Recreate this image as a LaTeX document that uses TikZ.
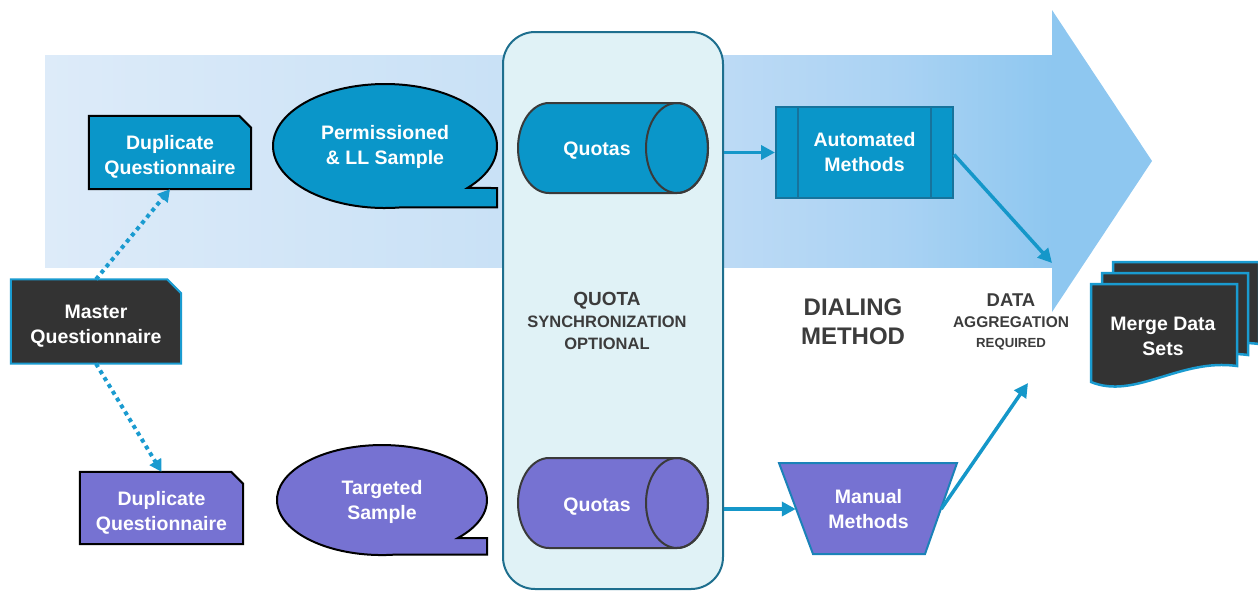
\documentclass[tikz,border=0pt]{standalone}
\usepackage{fontspec}
\setmainfont{Liberation Sans}
\usetikzlibrary{arrows.meta}

\definecolor{qblue}{HTML}{0A96C9}
\definecolor{qpurple}{HTML}{7672D2}
\definecolor{darkfill}{HTML}{333333}
\definecolor{dotblue}{HTML}{1A9BD0}
\definecolor{flowblue}{HTML}{1597C9}
\definecolor{autoedge}{HTML}{17739C}
\definecolor{manedge}{HTML}{1B82B8}
\definecolor{cylgrey}{HTML}{3A3A3A}
\definecolor{syncfill}{HTML}{E0F2F6}
\definecolor{syncedge}{HTML}{1E6F8E}
\definecolor{capgrey}{HTML}{3C3C3C}
\definecolor{bandA}{HTML}{DDEBF9}
\definecolor{bandB}{HTML}{C9E1F6}
\definecolor{bandC}{HTML}{BCDAF5}
\definecolor{bandD}{HTML}{A9D2F3}
\definecolor{bandE}{HTML}{8EC7F0}

% light-to-saturated fill of the process band
\pgfdeclarehorizontalshading{bandshade}{100bp}{color(0bp)=(bandA); color(25bp)=(bandA);
  color(47.5bp)=(bandB); color(59bp)=(bandC); color(67.5bp)=(bandD);
  color(75bp)=(bandE); color(100bp)=(bandE)}

\pgfdeclarelayer{back}
\pgfdeclarelayer{mid}
\pgfsetlayers{back,mid,main}

% horizontal quota drum centred vertically at #2
\newcommand\quotadrum[2]{%
  \filldraw[fill=#1, draw=cylgrey, line width=2pt]
    (677,#2-45) -- (549,#2-45)
    arc[start angle=90, end angle=270, x radius=31pt, y radius=45pt]
    -- (677,#2+45)
    arc[start angle=-90, end angle=90, x radius=31pt, y radius=45pt] -- cycle;
  \draw[cylgrey, line width=2pt] (677,#2) ellipse [x radius=31pt, y radius=45pt];}

\begin{document}
\begin{tikzpicture}[x=1pt, y=-1pt,
  boxtxt/.style={font=\bfseries\fontsize{19.5}{25}\selectfont, text=white,
    align=center, inner sep=0pt},
  cardtxt/.style={label={[boxtxt, yshift=-4.5pt]center:{#1}}},
  cardline/.style={line width=2pt, line join=miter},
  flow/.style={draw=flowblue, line width=3.5pt,
    -{Triangle[length=14pt, width=14pt]}},
  dots/.style={draw=dotblue, line width=4pt, dash pattern=on 4pt off 4pt,
    -{Triangle[length=12pt, width=13pt]}},
  caption/.style={text=capgrey, align=center, inner sep=0pt},
]
\useasboundingbox (0,0) rectangle (1258,590);

% ---------- process band and synchronisation panel ----------
\begin{pgfonlayer}{back}
  \shade[shading=bandshade] (45,55) rectangle (1053,267);
  \fill[bandE] (1052,10) -- (1152,161) -- (1052,312) -- cycle;
  \node[draw=syncedge, fill=syncfill, line width=2pt, rounded corners=32pt,
        minimum width=220pt, minimum height=557pt, inner sep=0pt]
        (sync) at (613,310.5) {};
\end{pgfonlayer}

% ---------- boxes and their labels ----------
\node[inner sep=0pt, minimum width=162pt, minimum height=73pt,
      cardtxt={Duplicate\\Questionnaire}] (dupA) at (170,152.5) {};
\node[inner sep=0pt, minimum width=170pt, minimum height=84pt,
      cardtxt={Master\\Questionnaire}] (master) at (96,321.5) {};
\node[inner sep=0pt, minimum width=163pt, minimum height=72pt,
      cardtxt={Duplicate\\Questionnaire}] (dupB) at (161.5,508) {};
\node[boxtxt] (perm) at (385,146.5) {Permissioned\\\& LL Sample};
\node[boxtxt] (targ) at (382,502) {Targeted\\Sample};
\node[boxtxt] (quotaA) at (597,151) {Quotas};
\node[boxtxt] (quotaB) at (597,506.5) {Quotas};
\node[boxtxt, fill=qblue, draw=autoedge, line width=2pt,
      minimum width=177pt, minimum height=91pt] (auto) at (864.5,152.5)
  {Automated\\Methods};
\node[boxtxt, minimum width=145pt, minimum height=91pt] (manual) at (868.5,509)
  {Manual\\Methods};
\node[boxtxt] (merge) at (1163,336) {Merge Data\\Sets};

% ---------- captions ----------
\node[caption, font=\bfseries\fontsize{16.5}{22}\selectfont] (quota) at (607,320.5)
  {{\fontsize{19}{22}\selectfont QUOTA}\\SYNCHRONIZATION\\OPTIONAL};
\node[caption, font=\bfseries\fontsize{24}{29}\selectfont] (dial) at (853,322)
  {DIALING\\METHOD};
\node[caption, font=\bfseries\fontsize{15.5}{20.5}\selectfont] (agg) at (1011,322)
  {{\fontsize{18.5}{20.5}\selectfont DATA}\\AGGREGATION\\{\fontsize{13.2}{20.5}\selectfont REQUIRED}};

% ---------- shapes behind the labels ----------
\begin{pgfonlayer}{mid}
  % questionnaire cards with a clipped corner
  \filldraw[fill=qblue, draw=black, cardline]
    (dupA.south west) -- (dupA.north west) -- ([xshift=-12pt]dupA.north east)
    -- ([yshift=-12pt]dupA.north east) -- (dupA.south east) -- cycle;
  \filldraw[fill=darkfill, draw=dotblue, cardline]
    (master.south west) -- (master.north west) -- ([xshift=-14pt]master.north east)
    -- ([yshift=-14pt]master.north east) -- (master.south east) -- cycle;
  \filldraw[fill=qpurple, draw=black, cardline]
    (dupB.south west) -- (dupB.north west) -- ([xshift=-12pt]dupB.north east)
    -- ([yshift=-12pt]dupB.north east) -- (dupB.south east) -- cycle;

  % sample speech bubbles
  \filldraw[fill=qblue, draw=black, line width=2pt]
    (400.6,207.4) arc[start angle=-82, end angle=-402.6, x radius=112pt, y radius=62pt]
    -- (497,188) -- (497,207.4) -- cycle;
  \filldraw[fill=qpurple, draw=black, line width=2pt]
    (396.6,554.5) arc[start angle=-82, end angle=-403.7, x radius=105pt, y radius=55pt]
    -- (487,538) -- (487,554.5) -- cycle;

  % quota drums
  \quotadrum{qblue}{148}
  \quotadrum{qpurple}{503}

  % manual methods trapezoid
  \filldraw[fill=qpurple, draw=manedge, line width=2pt]
    (779,463) -- (957,463) -- (925,554) -- (813,554) -- cycle;

  % stack of data sets
  \foreach \s in {22,11,0}
    \filldraw[fill=darkfill, draw=dotblue, line width=2.5pt, shift={(\s,-\s)}]
      (1091,284) -- (1237,284) -- (1237,366)
      .. controls (1180,358) and (1135,400) .. (1091,382) -- cycle;
\end{pgfonlayer}

% side bars of the automated process box
\draw[autoedge, line width=2pt]
  ([xshift=23pt]auto.north west) -- ([xshift=23pt]auto.south west)
  ([xshift=-23pt]auto.north east) -- ([xshift=-23pt]auto.south east);

% ---------- connectors ----------
\draw[dots] (master.north) -- (dupA.south);
\draw[dots] (master.south) -- (dupB.north);
\draw[flow] (sync.east |- auto.west) -- (auto.west);
\draw[flow] (sync.east |- manual.west) -- (manual.west);
\coordinate (aggTop) at (1052,263);
\coordinate (aggLow) at (1028,383);
\draw[flow] ([yshift=-2pt]auto.east) -- (aggTop);
\draw[flow] (manual.east) -- (aggLow);
\end{tikzpicture}
\end{document}
